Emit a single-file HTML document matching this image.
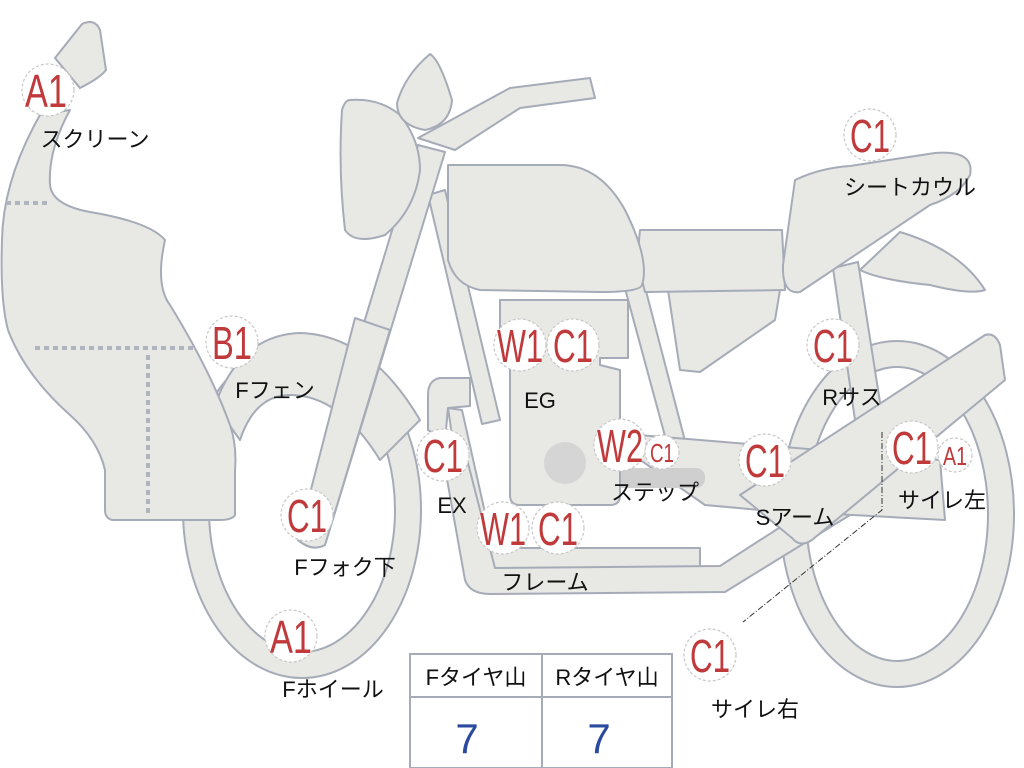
<!DOCTYPE html>
<html><head><meta charset="utf-8"><style>
html,body{margin:0;padding:0;background:#fff;width:1024px;height:768px;overflow:hidden}
svg{display:block}
.p{fill:#e8e8e5;stroke:#a6abb8;stroke-width:2;stroke-linejoin:round}
.lb{fill:#fff;stroke:#c8c8c8;stroke-width:1.2;stroke-dasharray:3 2}
.r{fill:#c0393b;font-family:"Liberation Sans Narrow","Liberation Sans",sans-serif;font-size:46px;text-anchor:middle}
.k{fill:#111;font-family:"Liberation Sans","Noto Sans CJK JP",sans-serif;font-size:22px;text-anchor:middle}
</style></head><body>
<svg width="1024" height="768" viewBox="0 0 1024 768" xmlns="http://www.w3.org/2000/svg">
<ellipse cx="897" cy="514" rx="104" ry="160" fill="none" stroke="#a6abb8" stroke-width="28"/>
<ellipse cx="897" cy="514" rx="104" ry="160" fill="none" stroke="#e8e8e5" stroke-width="24"/>
<ellipse cx="302" cy="510" rx="106" ry="155" fill="none" stroke="#a6abb8" stroke-width="28"/>
<ellipse cx="302" cy="510" rx="106" ry="155" fill="none" stroke="#e8e8e5" stroke-width="24"/>
<path class="p" d="M215,405 Q240,335 300,333 Q370,335 420,420 L380,460 Q340,395 290,395 Q255,395 240,440 Z"/>
<path class="p" d="M833,268 L858,262 L882,415 L855,420 Z"/>
<path class="p" d="M900,232 Q960,250 985,290 Q970,295 930,285 Q880,280 860,270 Z"/>
<path class="p" d="M428,195 L445,190 L500,420 L482,424 Z"/>
<path class="p" d="M620,270 L640,268 L690,460 L672,462 Z"/>
<path class="p" d="M470,378 L440,378 Q428,380 428,395 L428,430 L445,440 L448,408 L470,406 Z"/>
<path class="p" d="M448,408 L462,410 L490,535 Q495,548 510,548 L700,548 L700,575 L500,578 Q475,578 470,560 Z"/>
<path class="p" d="M440,440 L462,440 L495,568 L720,566 L830,495 L850,515 L725,592 L490,594 Q470,594 465,580 Z"/>
<path class="p" d="M600,432 L700,440 L940,460 L945,520 L760,510 L705,505 Z"/>
<rect x="605" y="468" width="100" height="20" rx="9" fill="#cfcfcf"/>
<path class="p" d="M500,300 L628,300 L628,358 L600,358 L600,365 L620,370 L620,495 Q620,505 610,505 L520,505 Q510,505 510,495 L510,360 L500,358 Z"/>
<circle cx="565" cy="463" r="21" fill="#d5d5d5"/>
<path class="p" d="M740,495 L985,335 Q995,332 1000,345 L1005,380 L812,540 Q800,548 792,538 Z"/>
<path class="p" d="M668,290 L780,290 L775,320 L700,372 L680,370 Z"/>
<path class="p" d="M640,230 L782,230 L785,290 L645,292 Q636,260 640,230 Z"/>
<path class="p" d="M795,180 Q820,168 850,166 L935,153 Q975,150 970,175 Q960,195 930,205 L800,292 Q782,295 783,265 Z"/>
<path class="p" d="M448,165 L560,165 Q600,165 625,210 Q650,260 642,285 Q640,292 600,292 L480,290 Q455,285 448,260 Z"/>
<path class="p" d="M418,145 L445,152 L325,545 Q312,552 298,540 Z"/>
<path class="p" d="M355,318 L390,330 L325,545 Q312,552 298,540 Z"/>
<path class="p" d="M418,138 L510,88 L590,78 L595,98 L520,108 L455,150 Z"/>
<path class="p" d="M350,100 Q380,98 400,115 Q420,140 420,170 Q415,210 385,235 Q355,245 345,230 Q338,170 342,110 Q345,100 350,100 Z"/>
<path class="p" d="M430,54 Q440,60 452,100 Q450,125 425,130 Q397,125 397,103 Q405,75 430,54 Z"/>
<path class="p" d="M55,58 L82,24 Q95,18 100,30 L106,70 Q100,78 80,88 Z"/>
<path class="p" d="M40,115 L70,110 Q48,150 50,185 Q52,205 90,212 Q150,222 165,240 Q155,285 170,305 Q210,370 230,425 Q237,445 235,470 L235,515 Q232,520 220,520 L112,520 Q105,518 105,510 L105,470 Q98,440 70,415 Q25,375 8,330 Q0,300 2,240 Q3,180 40,115 Z"/>
<path d="M6,203 H50 M35,348 H195 M148,355 V515" stroke="#b0b4be" stroke-width="4" stroke-dasharray="5 4" fill="none"/>
<path d="M882,432 V510 L743,622" stroke="#333" stroke-width="1" fill="none" stroke-dasharray="6 2 1 2"/>
<g>
<circle class="lb" cx="48" cy="90" r="26"/><text class="r" x="46" y="107" textLength="42" lengthAdjust="spacingAndGlyphs">A1</text>
<circle class="lb" cx="870" cy="135" r="26"/><text class="r" x="870" y="152" textLength="40" lengthAdjust="spacingAndGlyphs">C1</text>
<circle class="lb" cx="232" cy="342" r="26"/><text class="r" x="232" y="359" textLength="40" lengthAdjust="spacingAndGlyphs">B1</text>
<circle class="lb" cx="520" cy="345" r="26"/><text class="r" x="520" y="362" textLength="46" lengthAdjust="spacingAndGlyphs">W1</text>
<circle class="lb" cx="573" cy="345" r="26"/><text class="r" x="573" y="362" textLength="40" lengthAdjust="spacingAndGlyphs">C1</text>
<circle class="lb" cx="833" cy="345" r="26"/><text class="r" x="833" y="362" textLength="40" lengthAdjust="spacingAndGlyphs">C1</text>
<circle class="lb" cx="443" cy="455" r="26"/><text class="r" x="443" y="472" textLength="40" lengthAdjust="spacingAndGlyphs">C1</text>
<circle class="lb" cx="620" cy="445" r="26"/><text class="r" x="620" y="462" textLength="46" lengthAdjust="spacingAndGlyphs">W2</text>
<circle class="lb" cx="662" cy="452" r="17"/><text class="r" style="font-size:26px" x="662" y="462" textLength="24" lengthAdjust="spacingAndGlyphs">C1</text>
<circle class="lb" cx="765" cy="460" r="26"/><text class="r" x="765" y="477" textLength="40" lengthAdjust="spacingAndGlyphs">C1</text>
<circle class="lb" cx="912" cy="447" r="26"/><text class="r" x="912" y="464" textLength="40" lengthAdjust="spacingAndGlyphs">C1</text>
<circle class="lb" cx="955" cy="455" r="17"/><text class="r" style="font-size:26px" x="955" y="465" textLength="24" lengthAdjust="spacingAndGlyphs">A1</text>
<circle class="lb" cx="307" cy="515" r="26"/><text class="r" x="307" y="532" textLength="40" lengthAdjust="spacingAndGlyphs">C1</text>
<circle class="lb" cx="503" cy="528" r="26"/><text class="r" x="503" y="545" textLength="46" lengthAdjust="spacingAndGlyphs">W1</text>
<circle class="lb" cx="558" cy="528" r="26"/><text class="r" x="558" y="545" textLength="40" lengthAdjust="spacingAndGlyphs">C1</text>
<circle class="lb" cx="291" cy="636" r="26"/><text class="r" x="291" y="653" textLength="42" lengthAdjust="spacingAndGlyphs">A1</text>
<circle class="lb" cx="710" cy="655" r="26"/><text class="r" x="710" y="672" textLength="40" lengthAdjust="spacingAndGlyphs">C1</text>
</g>
<g>
<text class="k" x="95" y="147">スクリーン</text>
<text class="k" x="910" y="195">シートカウル</text>
<text class="k" x="275" y="398">Fフェン</text>
<text class="k" x="540" y="408">EG</text>
<text class="k" x="852" y="405">Rサス</text>
<text class="k" x="452" y="513">EX</text>
<text class="k" x="655" y="500">ステップ</text>
<text class="k" x="795" y="525">Sアーム</text>
<text class="k" x="942" y="508">サイレ左</text>
<text class="k" x="345" y="575">Fフォク下</text>
<text class="k" x="545" y="590">フレーム</text>
<text class="k" x="333" y="697">Fホイール</text>
<text class="k" x="755" y="717">サイレ右</text>
</g>
<rect x="410" y="654" width="262" height="114" fill="#fff" stroke="#a6abb8" stroke-width="2"/>
<line x1="410" y1="697" x2="672" y2="697" stroke="#a6abb8" stroke-width="2"/>
<line x1="542" y1="654" x2="542" y2="768" stroke="#a6abb8" stroke-width="2"/>
<text class="k" x="476" y="685">Fタイヤ山</text>
<text class="k" x="607" y="685">Rタイヤ山</text>
<text x="467" y="753" fill="#2a4aa0" font-family="Liberation Sans, sans-serif" font-size="42" text-anchor="middle">7</text>
<text x="599" y="753" fill="#2a4aa0" font-family="Liberation Sans, sans-serif" font-size="42" text-anchor="middle">7</text>
</svg>
</body></html>
